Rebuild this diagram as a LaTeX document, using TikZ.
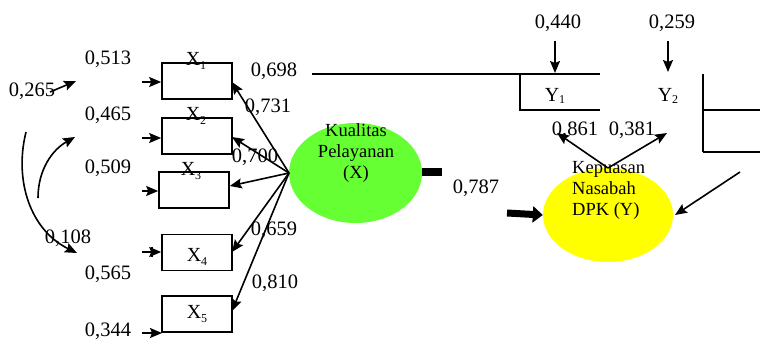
\documentclass[tikz,border=0pt]{standalone}
\usepackage{fontspec}
\setmainfont{Liberation Serif}
\usetikzlibrary{arrows.meta,shapes.geometric}
\definecolor{latgreen}{RGB}{102,255,51}
\definecolor{latyellow}{RGB}{255,255,0}
\newcommand\lowsub[1]{\raisebox{-0.5ex}{\fontsize{12}{12}\selectfont #1}}
\newcommand\ysub[1]{\raisebox{-0.25ex}{\fontsize{12}{12}\selectfont #1}}
\tikzset{
  txt/.style={font=\fontsize{20}{22}\selectfont, inner sep=0pt},
  val/.style={font=\fontsize{20.5}{22}\selectfont, inner sep=0pt},
  ind/.style={draw, line width=1.6pt, minimum width=70pt, minimum height=36pt, inner sep=0pt},
  arr/.style={line width=1.6pt, -{Stealth[length=12pt,width=10pt,inset=2pt]}},
  ln/.style={line width=1.6pt},
  elltxt/.style={font=\fontsize{18.5}{21}\selectfont, align=center, inner sep=0pt},
}
\begin{document}
\begin{tikzpicture}[x=1pt,y=-1pt]
\useasboundingbox (0,0) rectangle (760,340);

% latent variables
\node[ellipse, fill=latgreen, minimum width=133pt, minimum height=100pt, inner sep=0pt] (kx) at (355.5,173) {};
\node[ellipse, fill=latyellow, minimum width=130pt, minimum height=94pt, inner sep=0pt] (ky) at (608,215) {};
\node[elltxt] (kxt) at (356,153) {Kualitas\\Pelayanan\\(X)};
\node[elltxt, align=left, anchor=north west] (kyt) at (572,161) {Kepuasan\\Nasabah\\DPK (Y)};

% indicator boxes of X
\node[ind] (x1) at (197,81) {};
\node[ind] (x2) at (197,136) {};
\node[ind] (x3) at (194,190) {};
\node[ind] (x4) at (197,252.5) {};
\node[ind] (x5) at (197,314) {};
\node[txt] (lx1) at (196,61) {X\lowsub{1}};
\node[txt] (lx2) at (196,116) {X\lowsub{2}};
\node[txt] (lx3) at (191,171) {X\lowsub{3}};
\node[txt] (lx4) at (197,257) {X\lowsub{4}};
\node[txt] (lx5) at (197,314) {X\lowsub{5}};

% error terms of X indicators
\coordinate (e1) at (142,82);
\coordinate (e2) at (142,138);
\coordinate (e3) at (142,191);
\coordinate (e4) at (142,252);
\coordinate (e5) at (142,333);
\draw[arr] (e1) -- (x1.west |- e1);
\draw[arr] (e2) -- (x2.west |- e2);
\draw[arr] (e3) -- (x3.west |- e3);
\draw[arr] (e4) -- (x4.west |- e4);
\draw[arr] (e5) -- (162,333);
\draw[ln] (152,247) -- (152,257);
\node[val] (v1) at (108,59) {0,513};
\node[val] (v2) at (108,115) {0,465};
\node[val] (v3) at (108,168) {0,509};
\node[val] (v4) at (108,274) {0,565};
\node[val] (v5) at (108,331) {0,344};

% correlations between errors
\coordinate (c0) at (50,92);
\coordinate (c1) at (76,81);
\draw[arr] (c0) -- (c1);
\node[val] (r1) at (32,91) {0,265};
\coordinate (c2) at (38,198);
\coordinate (c3) at (75,137);
\draw[arr] (c2) .. controls (38,170) and (52,150) .. (c3);
\coordinate (c4) at (26,132);
\coordinate (c5) at (77,253);
\draw[arr] (c4) .. controls (14,180) and (30,230) .. (c5);
\node[val] (r2) at (68,238) {0,108};

% loadings of X
\coordinate (ox) at (289,173);
\draw[arr] (ox) -- (232,82);
\draw[arr] (ox) -- (232,137);
\draw[arr] (ox) -- (x3.east |- 0,186);
\draw[arr] (ox) -- (232,252);
\draw[arr] (ox) -- (232,311);
\node[val] (l0) at (274,71) {0,698};
\node[val] (l1) at (268,107) {0,731};
\node[val] (l2) at (255,157) {0,700};
\node[val] (l3) at (274,230) {0,659};
\node[val] (l4) at (275,283) {0,810};

% indicator frame of Y
\coordinate (f0) at (312,74);
\coordinate (f1) at (600,74);
\draw[ln] (f0) -- (f1);
\draw[ln] (520,74) -- (520,110) -- (600,110);
\draw[ln] (703,74) -- (703,152);
\draw[ln] (703,110) -- (760,110);
\draw[ln] (703,152) -- (760,152);
\node[txt] (y1) at (555,96) {Y\ysub{1}};
\node[txt] (y2) at (668,96) {Y\ysub{2}};

% error terms of Y indicators
\node[val] (ve1) at (558,23) {0,440};
\node[val] (ve2) at (672,23) {0,259};
\draw[arr] (555,41) -- (555,73);
\draw[arr] (668,41) -- (668,72);

% loadings of Y
\coordinate (oy) at (608,168);
\draw[arr] (oy) -- (557,133);
\draw[arr] (oy) -- (667,133);
\node[val] (ly1) at (575,130) {0,861};
\node[val] (ly2) at (632,130) {0,381};
\coordinate (ry) at (740,172);
\draw[arr] (ry) -- (675,215);

% structural path X -> Y
\draw[line width=8pt] (422,172) -- (442,172);
\draw[line width=7pt, -{Triangle[length=10pt,width=16pt]}] (507,213) -- (ky.west);
\node[val] (pc) at (476,188) {0,787};
\end{tikzpicture}
\end{document}
